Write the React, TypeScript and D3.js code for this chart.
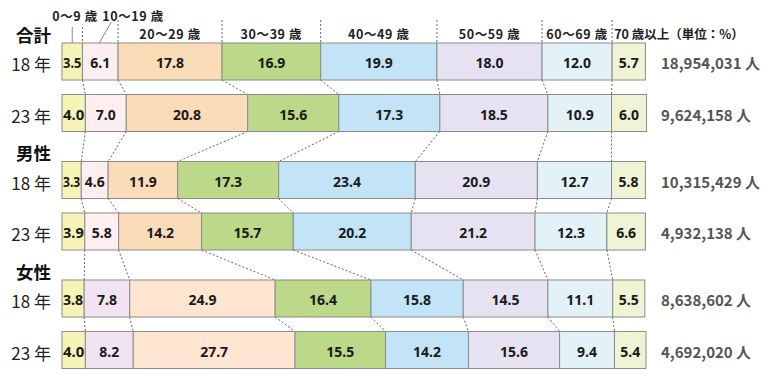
import React from "react";
import * as d3 from "d3";

const ageGroups = ["0～9 歳", "10～19 歳", "20～29 歳", "30～39 歳", "40～49 歳", "50～59 歳", "60～69 歳", "70 歳以上"];
const groupNames = ["合計", "男性", "女性"];
const yearLabels = ["18 年", "23 年"];

const total18 = [3.5, 6.1, 17.8, 16.9, 19.9, 18.0, 12.0, 5.7];
const total23 = [4.0, 7.0, 20.8, 15.6, 17.3, 18.5, 10.9, 6.0];
const male18 = [3.3, 4.6, 11.9, 17.3, 23.4, 20.9, 12.7, 5.8];
const male23 = [3.9, 5.8, 14.2, 15.7, 20.2, 21.2, 12.3, 6.6];
const female18 = [3.8, 7.8, 24.9, 16.4, 15.8, 14.5, 11.1, 5.5];
const female23 = [4.0, 8.2, 27.7, 15.5, 14.2, 15.6, 9.4, 5.4];

const populations = ["18,954,031 人", "9,624,158 人", "10,315,429 人", "4,932,138 人", "8,638,602 人", "4,692,020 人"];
const unitLabel = "（単位：%）";

const colorsDefault = ["#f6f3b6", "#fdeef0", "#fbdcb8", "#bcd98a", "#c2e4f6", "#e6e2f1", "#e2f2f7", "#eef4d4"];
const colorsFemale = ["#f6f3b6", "#f1e3f1", "#fde5d2", "#bcd98a", "#c2e4f6", "#e6e2f1", "#e2f2f7", "#eef4d4"];

const rows = [total18, total23, male18, male23, female18, female23];

const W = 771;
const H = 388;
const BAR_H = 37;
const x = d3.scaleLinear().domain([0, 100]).range([62, 646]);
const rowTop = (i: number) => 43 + Math.floor(i / 2) * 118.5 + (i % 2) * 51.5;

const CJK = "'Noto Sans CJK JP', 'Noto Sans', sans-serif";
const NUM = "'Noto Sans', 'DejaVu Sans', sans-serif";

function cumulative(vals: number[]) {
  const c = [0];
  vals.forEach((v) => c.push(c[c.length - 1] + v));
  return c;
}

export default function App() {
  const cums = rows.map(cumulative);
  const c0 = cums[0];

  const numWidth = (s: string, fs: number) => s.length * fs * 0.5 + 2;
  const HFS = 12.5;

  return (
    <svg
      width={W}
      height={H}
      viewBox={`0 0 ${W} ${H}`}
      style={{ position: "absolute", left: 0, top: 0, background: "#fff" }}
    >
      <rect x={0} y={0} width={W} height={H} fill="#fff" />
      {/* header dotted lines */}
      {c0.slice(1, 8).map((c, k) => (
        <line
          key={"hd" + k}
          x1={x(c)}
          x2={x(c)}
          y1={k === 0 ? 27 : 20}
          y2={43}
          stroke="#666"
          strokeWidth={1}
          strokeDasharray="2,2"
        />
      ))}
      {/* header labels 20-29 .. 60-69 */}
      {ageGroups.slice(2, 7).map((a, k) => (
        <text
          key={"hl" + k}
          x={x((c0[k + 2] + c0[k + 3]) / 2)}
          y={33}
          textAnchor="middle"
          dominantBaseline="central"
          fontFamily={CJK}
          fontWeight="bold"
          fontSize={HFS}
          letterSpacing={0.6}
          fill="#222"
        >
          {a}
        </text>
      ))}
      <text x={x(c0[7]) + 2} y={33} dominantBaseline="central" fontFamily={CJK} fontWeight="bold" fontSize={HFS} fill="#222">
        {ageGroups[7] + unitLabel}
      </text>
      {/* small labels for 0-9, 10-19 */}
      <text x={75} y={15} textAnchor="middle" dominantBaseline="central" fontFamily={CJK} fontWeight="bold" fontSize={HFS} letterSpacing={0.6} fill="#222">
        {ageGroups[0]}
      </text>
      <text x={133} y={15} textAnchor="middle" dominantBaseline="central" fontFamily={CJK} fontWeight="bold" fontSize={HFS} letterSpacing={0.6} fill="#222">
        {ageGroups[1]}
      </text>
      <line x1={x(c0[0] + total18[0] / 2)} x2={x(c0[0] + total18[0] / 2)} y1={27} y2={50} stroke="#888" strokeWidth={1} />
      <line
        x1={x(c0[1] + total18[1] / 2) + 11}
        y1={22}
        x2={x(c0[1] + total18[1] / 2) - 5}
        y2={50}
        stroke="#888"
        strokeWidth={1}
      />
      {/* connectors between rows */}
      {rows.slice(0, 5).map((_, i) =>
        cums[i].slice(1, 8).map((c, k) => (
          <line
            key={`cn${i}-${k}`}
            x1={x(c)}
            y1={rowTop(i) + BAR_H}
            x2={x(cums[i + 1][k + 1])}
            y2={rowTop(i + 1)}
            stroke="#666"
            strokeWidth={1}
            strokeDasharray="2,2"
          />
        ))
      )}
      {/* group labels */}
      {groupNames.map((g, gi) => (
        <text
          key={"g" + gi}
          x={16}
          y={rowTop(gi * 2) - 9}
          dominantBaseline="central"
          fontFamily={CJK}
          fontWeight="bold"
          fontSize={17.5}
          fill="#111"
        >
          {g}
        </text>
      ))}
      {/* rows */}
      {rows.map((vals, i) => {
        const cum = cums[i];
        const colors = i >= 4 ? colorsFemale : colorsDefault;
        const y0 = rowTop(i);
        const cy = y0 + BAR_H / 2;
        return (
          <g key={"r" + i}>
            <text
              x={51}
              y={cy + 2}
              textAnchor="end"
              dominantBaseline="central"
              fontFamily={CJK}
              fontSize={17}
              fill="#222"
            >
              {yearLabels[i % 2]}
            </text>
            {vals.map((v, k) => {
              const xa = x(cum[k]);
              const xb = x(cum[k + 1]);
              const w = xb - xa;
              const label = v.toFixed(1);
              const fs = 14;
              const tooWide = numWidth(label, fs) > w - 1;
              return (
                <g key={"s" + k}>
                  <rect x={xa} y={y0} width={w} height={BAR_H} fill={colors[k]} stroke="#8c8c8c" strokeWidth={1} />
                  <text
                    x={(xa + xb) / 2}
                    y={cy + 1}
                    textAnchor="middle"
                    dominantBaseline="central"
                    fontFamily={NUM}
                    fontWeight="bold"
                    fontSize={fs}
                    fill="#1a1a1a"
                    {...(tooWide ? { textLength: w - 2, lengthAdjust: "spacingAndGlyphs" } : {})}
                  >
                    {label}
                  </text>
                </g>
              );
            })}
            <text
              x={661}
              y={cy + 1}
              dominantBaseline="central"
              fontFamily={CJK}
              fontWeight="bold"
              fontSize={15}
              fill="#555"
            >
              {populations[i]}
            </text>
          </g>
        );
      })}
    </svg>
  );
}
